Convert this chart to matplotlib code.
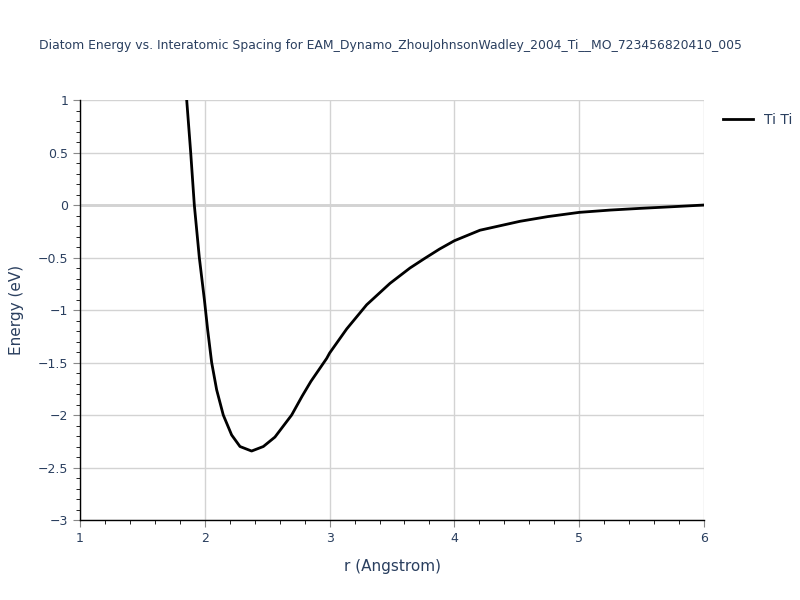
import matplotlib.pyplot as plt
from matplotlib.ticker import MultipleLocator

# data
r_vals = [1.855, 1.887, 1.916, 1.956, 1.997, 2.023, 2.055, 2.095, 2.148, 2.215,
          2.282, 2.375, 2.469, 2.562, 2.696, 2.78, 2.85, 2.977, 3.0, 3.137,
          3.297, 3.484, 3.644, 3.76, 3.88, 4.0, 4.205, 4.526, 4.75, 5.0,
          5.25, 5.487, 5.75, 6.0]
energy = [1.0, 0.5, 0.0, -0.5, -0.905, -1.19, -1.5, -1.76, -2.0, -2.19,
          -2.30, -2.343, -2.30, -2.21, -2.0, -1.82, -1.68, -1.46, -1.41, -1.18,
          -0.95, -0.746, -0.60, -0.51, -0.42, -0.34, -0.24, -0.155, -0.11, -0.07,
          -0.048, -0.032, -0.016, 0.0]

title = "Diatom Energy vs. Interatomic Spacing for EAM_Dynamo_ZhouJohnsonWadley_2004_Ti__MO_723456820410_005"
txt = "#2a3f5f"

fig = plt.figure(figsize=(8, 6), dpi=100)
ax = fig.add_axes([0.1, 0.1333, 0.78, 0.7])

ax.plot(r_vals, energy, color="black", linewidth=2, label="Ti Ti", zorder=3)

ax.set_xlim(1, 6)
ax.set_ylim(-3, 1)
ax.xaxis.set_major_locator(MultipleLocator(1))
ax.xaxis.set_minor_locator(MultipleLocator(0.2))
ax.yaxis.set_minor_locator(MultipleLocator(0.1))
ax.set_yticks([-3, -2.5, -2, -1.5, -1, -0.5, 0, 0.5, 1])
ax.set_yticklabels(["\u22123", "\u22122.5", "\u22122", "\u22121.5", "\u22121",
                    "\u22120.5", "0", "0.5", "1"])

ax.grid(True, which="major", color="#d3d3d3", linewidth=1, zorder=0)
ax.axhline(0, color="#c8c8c8", linewidth=1.8, zorder=1)

for s in ["top", "right"]:
    ax.spines[s].set_visible(False)
for s in ["left", "bottom"]:
    ax.spines[s].set_color("black")
    ax.spines[s].set_linewidth(1)

ax.tick_params(which="major", direction="out", length=5, color="#888888",
               labelsize=9, labelcolor=txt)
ax.tick_params(which="minor", direction="out", length=3, color="black")

ax.set_xlabel("r (Angstrom)", fontsize=11, color=txt, labelpad=10)
ax.set_ylabel("Energy (eV)", fontsize=11, color=txt, labelpad=10)

fig.text(0.4875, 0.925, title, ha="center", va="center", fontsize=8.9, color=txt)

leg = ax.legend(loc="upper left", bbox_to_anchor=(1.01, 1.0), frameon=False,
                fontsize=10, handlelength=2.2)
for t in leg.get_texts():
    t.set_color(txt)

fig.savefig("out.png", dpi=100)
